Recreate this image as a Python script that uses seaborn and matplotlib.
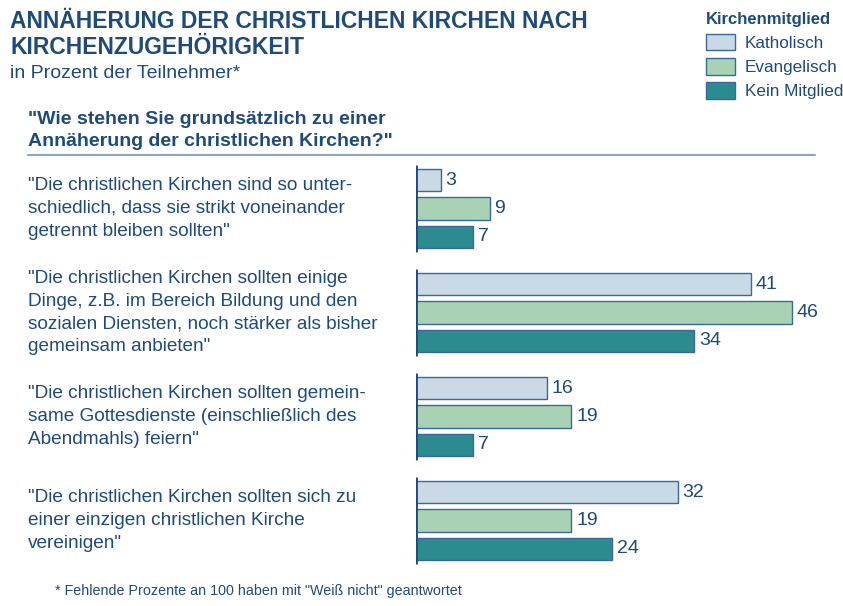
import pandas as pd
import seaborn as sns
import matplotlib.pyplot as plt
import matplotlib.transforms as mtrans

# data
aussagen = [
    '"Die christlichen Kirchen sind so unter-\nschiedlich, dass sie strikt voneinander\ngetrennt bleiben sollten"',
    '"Die christlichen Kirchen sollten einige\nDinge, z.B. im Bereich Bildung und den\nsozialen Diensten, noch stärker als bisher\ngemeinsam anbieten"',
    '"Die christlichen Kirchen sollten gemein-\nsame Gottesdienste (einschließlich des\nAbendmahls) feiern"',
    '"Die christlichen Kirchen sollten sich zu\neiner einzigen christlichen Kirche\nvereinigen"',
]
gruppen = ["Katholisch", "Evangelisch", "Kein Mitglied"]
katholisch = [3, 41, 16, 32]
evangelisch = [9, 46, 19, 19]
kein_mitglied = [7, 34, 7, 24]
farben = ["#c9dae6", "#a9d2b5", "#2b8b8f"]

navy = "#1f4a7c"

rows = []
for i in range(len(aussagen)):
    rows.append({"frage": str(i), "gruppe": "Katholisch", "wert": katholisch[i]})
    rows.append({"frage": str(i), "gruppe": "Evangelisch", "wert": evangelisch[i]})
    rows.append({"frage": str(i), "gruppe": "Kein Mitglied", "wert": kein_mitglied[i]})
df = pd.DataFrame(rows)

sns.set_theme(style="white")
plt.rcParams["font.family"] = ["Liberation Sans", "DejaVu Sans"]

W, H = 843, 606
fig = plt.figure(figsize=(W / 100, H / 100), dpi=100)
ax = fig.add_axes([416 / W, 1 - 575 / H, 425 / W, 420 / H])

sns.barplot(data=df, y="frage", x="wert", hue="gruppe", hue_order=gruppen,
            palette=farben, saturation=1, orient="h", width=0.82, gap=0.2,
            edgecolor="#3d6894", linewidth=1, ax=ax, legend=True)

for cont in ax.containers:
    ax.bar_label(cont, padding=3.5, fontsize=14, color=navy)

ax.set_xlim(0, 52.0)
ax.set_ylim(3.524, -0.514)
for s in ax.spines.values():
    s.set_visible(False)
ax.set_xticks([])
ax.set_yticks([])
ax.set_xlabel("")
ax.set_ylabel("")
for i in range(len(aussagen)):
    ax.vlines(0, i - 0.42, i + 0.42, color=navy, lw=2)

# quote labels on the left
blend = mtrans.blended_transform_factory(fig.transFigure, ax.transData)
for i, t in enumerate(aussagen):
    ax.text(28 / W, i, t, transform=blend, ha="left", va="center",
            fontsize=13.7, color=navy, linespacing=1.45)

# legend
h, l = ax.get_legend_handles_labels()
ax.get_legend().remove()
leg = fig.legend(h, l, loc="upper left", bbox_to_anchor=(699 / W, 1 - 5 / H),
                 frameon=False, title="Kirchenmitglied", fontsize=12.3,
                 title_fontproperties={"weight": "bold", "size": 12},
                 alignment="left", handlelength=1.7, handleheight=1.1,
                 labelspacing=0.42, handletextpad=0.6, borderaxespad=0)
leg.get_title().set_color(navy)
for txt in leg.get_texts():
    txt.set_color(navy)

# titles
fig.text(10 / W, 1 - 21 / H, "ANNÄHERUNG DER CHRISTLICHEN KIRCHEN NACH",
         fontsize=16.5, fontweight="bold", color=navy, va="center")
fig.text(10 / W, 1 - 47 / H, "KIRCHENZUGEHÖRIGKEIT",
         fontsize=16.5, fontweight="bold", color=navy, va="center")
fig.text(10 / W, 1 - 74 / H, "in Prozent der Teilnehmer*",
         fontsize=14, color=navy, va="center")
fig.text(28 / W, 1 - 119 / H, '"Wie stehen Sie grundsätzlich zu einer',
         fontsize=14, fontweight="bold", color=navy, va="center")
fig.text(28 / W, 1 - 141 / H, 'Annäherung der christlichen Kirchen?"',
         fontsize=14, fontweight="bold", color=navy, va="center")
fig.add_artist(plt.Line2D([28 / W, 815 / W], [1 - 155 / H, 1 - 155 / H],
                          color="#8aa5c6", lw=1.5))

fig.text(55 / W, 1 - 591 / H,
         '* Fehlende Prozente an 100 haben mit "Weiß nicht" geantwortet',
         fontsize=10.3, color=navy, va="center")

fig.savefig("out.png", dpi=100)
